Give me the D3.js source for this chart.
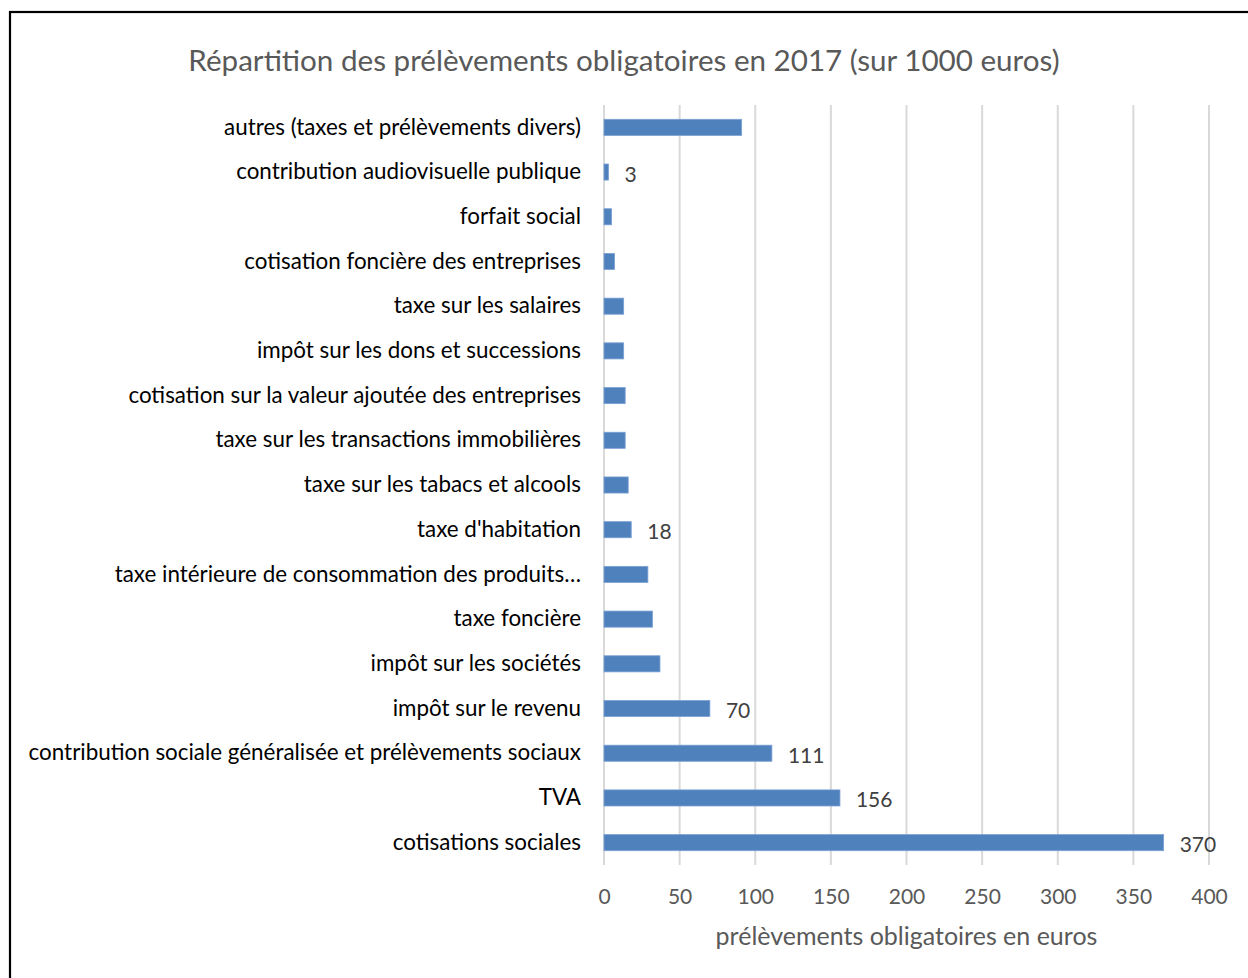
<!DOCTYPE html>
<html>
<head>
<meta charset="utf-8">
<script src="https://cdn.jsdelivr.net/npm/d3@7"></script>
<style>
  body { margin: 0; background: #fff; }
  svg { display: block; }
</style>
</head>
<body>
<svg id="drawing_region"></svg>
<script>
// categories from top to bottom
const categories = [
    "autres (taxes et prélèvements divers)",
    "contribution audiovisuelle publique",
    "forfait social",
    "cotisation foncière des entreprises",
    "taxe sur les salaires",
    "impôt sur les dons et successions",
    "cotisation sur la valeur ajoutée des entreprises",
    "taxe sur les transactions immobilières",
    "taxe sur les tabacs et alcools",
    "taxe d'habitation",
    "taxe intérieure de consommation des produits…",
    "taxe foncière",
    "impôt sur les sociétés",
    "impôt sur le revenu",
    "contribution sociale généralisée et prélèvements sociaux",
    "TVA",
    "cotisations sociales"
];
const values = [91, 3, 5, 7, 13, 13, 14, 14, 16, 18, 29, 32, 37, 70, 111, 156, 370];
// only some bars carry a data label
const shownLabels = [null, "3", null, null, null, null, null, null, null, "18", null, null, null, "70", "111", "156", "370"];
const xTicks = [0, 50, 100, 150, 200, 250, 300, 350, 400];

const title = "Répartition des prélèvements obligatoires en 2017 (sur 1000 euros)";
const xTitle = "prélèvements obligatoires en euros";

const data = categories.map((c, i) => ({ label: c, value: values[i], text: shownLabels[i] }));

const width = 1248, height = 978;
const margin = { top: 105, right: 39, bottom: 113, left: 604 };
const font = "Lato, 'Open Sans', sans-serif";

const svg = d3.select('#drawing_region')
    .attr('width', width)
    .attr('height', height);

// frame (extends past the right and bottom edges)
svg.append('rect')
    .attr('x', 10).attr('y', 12)
    .attr('width', 1260).attr('height', 1000)
    .attr('fill', 'none')
    .attr('stroke', '#000')
    .attr('stroke-width', 2.2);

const inner_width = width - margin.left - margin.right;
const inner_height = height - margin.top - margin.bottom;

const chart = svg.append('g')
    .attr('transform', `translate(${margin.left}, ${margin.top})`);

const xscale = d3.scaleLinear()
    .domain([0, 400])
    .range([0, inner_width]);

const yscale = d3.scaleBand()
    .domain(categories)
    .range([0, inner_height])
    .paddingInner(0.64)
    .paddingOuter(0.32);

// gridlines
chart.selectAll('.grid')
    .data(xTicks)
    .join('line')
    .attr('class', 'grid')
    .attr('x1', d => xscale(d)).attr('x2', d => xscale(d))
    .attr('y1', 0).attr('y2', inner_height)
    .attr('stroke', '#d9d9d9')
    .attr('stroke-width', 2);

// x axis tick labels
const xaxis = d3.axisBottom(xscale)
    .tickValues(xTicks)
    .tickSize(0)
    .tickPadding(24);

chart.append('g')
    .attr('transform', `translate(0, ${inner_height})`)
    .call(xaxis)
    .call(g => g.select('.domain').remove())
    .selectAll('text')
    .style('font-family', font)
    .style('font-size', '21px')
    .attr('fill', '#595959');

// y axis category labels
const yaxis = d3.axisLeft(yscale)
    .tickSize(0)
    .tickPadding(23);

chart.append('g')
    .call(yaxis)
    .call(g => g.select('.domain').remove())
    .selectAll('text')
    .style('font-family', font)
    .style('font-size', '22.4px')
    .attr('fill', '#000');

// bars
chart.selectAll('.bar')
    .data(data)
    .join('rect')
    .attr('class', 'bar')
    .attr('x', xscale(0))
    .attr('y', d => yscale(d.label))
    .attr('width', d => xscale(d.value) - xscale(0))
    .attr('height', yscale.bandwidth())
    .attr('fill', '#4f81bd')
    .attr('stroke', '#7ba0d4')
    .attr('stroke-width', 0.8);

// data labels
chart.selectAll('.value')
    .data(data.filter(d => d.text !== null))
    .join('text')
    .attr('class', 'value')
    .attr('x', d => xscale(d.value) + 16)
    .attr('y', d => yscale(d.label) + yscale.bandwidth() / 2)
    .attr('dy', '0.45em')
    .style('font-family', font)
    .style('font-size', '21px')
    .attr('fill', '#404040')
    .text(d => d.text);

// chart title
svg.append('text')
    .attr('x', 624)
    .attr('y', 71)
    .attr('text-anchor', 'middle')
    .style('font-family', font)
    .style('font-size', '29.6px')
    .attr('fill', '#595959')
    .text(title);

// x axis title
svg.append('text')
    .attr('x', margin.left + inner_width / 2)
    .attr('y', 945)
    .attr('text-anchor', 'middle')
    .style('font-family', font)
    .style('font-size', '25px')
    .attr('fill', '#595959')
    .text(xTitle);
</script>
</body>
</html>
